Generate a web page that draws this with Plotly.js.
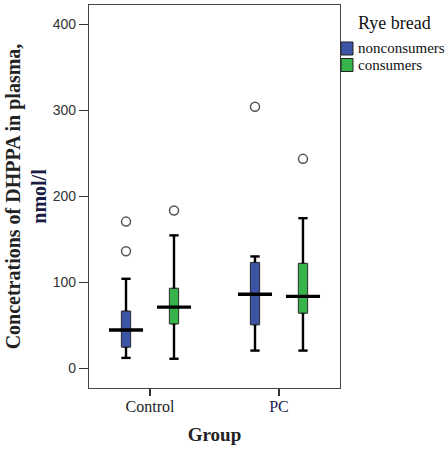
<!DOCTYPE html>
<html>
<head>
<meta charset="utf-8">
<script src="https://cdn.plot.ly/plotly-3.0.1.min.js"></script>
<style>html,body{margin:0;padding:0;background:#fff;}#chart{width:447px;height:449px;}</style>
</head>
<body>
<div id="chart"></div>
<script>
// ---- data ----
const categories = ['Control', 'PC'];
const seriesNames = ['nonconsumers', 'consumers'];
const nonLower = [12, 20.5];
const nonQ1 = [24.5, 50.5];
const nonMedian = [44.5, 86];
const nonQ3 = [66.5, 123];
const nonUpper = [104, 130];
const nonOutliers = [[170.5, 136], [304]];
const conLower = [11, 20.5];
const conQ1 = [51.5, 64];
const conMedian = [71, 83.5];
const conQ3 = [93, 122];
const conUpper = [154.5, 174.5];
const conOutliers = [[183.5], [243.5]];
const yTicks = [0, 100, 200, 300, 400];

// ---- styling ----
const colors = ['#3C54A5', '#36B34A'];
const offsets = [-0.186, 0.186];
const boxW = 0.072, capHalf = 0.036, medHalf = 0.132;
const serif = 'Liberation Serif, Times New Roman, serif';
const sans = 'Liberation Sans, Arial, sans-serif';
const tickColors = ['#222', '#1a1a50'];

const series = [
  {lower: nonLower, q1: nonQ1, med: nonMedian, q3: nonQ3, upper: nonUpper, out: nonOutliers},
  {lower: conLower, q1: conQ1, med: conMedian, q3: conQ3, upper: conUpper, out: conOutliers}
];

const boxes = [], lines = [];
series.forEach((s, si) => {
  const wx = [], wy = [], mx = [], my = [], ox = [], oy = [];
  categories.forEach((c, ci) => {
    const p = ci + offsets[si];
    boxes.push({
      type: 'box', name: seriesNames[si], showlegend: false,
      x: [p], q1: [s.q1[ci]], median: [s.med[ci]], q3: [s.q3[ci]],
      lowerfence: [s.q1[ci]], upperfence: [s.q3[ci]],
      width: boxW, fillcolor: colors[si],
      line: {color: '#2a2a2a', width: 1}, boxpoints: false, hoverinfo: 'skip'
    });
    // whiskers and caps
    wx.push(p, p, null, p, p, null, p - capHalf, p + capHalf, null, p - capHalf, p + capHalf, null);
    wy.push(s.lower[ci], s.q1[ci], null, s.q3[ci], s.upper[ci], null,
            s.lower[ci], s.lower[ci], null, s.upper[ci], s.upper[ci], null);
    mx.push(p - medHalf, p + medHalf, null);
    my.push(s.med[ci], s.med[ci], null);
    s.out[ci].forEach(v => { ox.push(p); oy.push(v); });
  });
  lines.push({type: 'scatter', mode: 'lines', x: wx, y: wy, showlegend: false,
    line: {color: '#000', width: 2.4}, hoverinfo: 'skip'});
  lines.push({type: 'scatter', mode: 'lines', x: mx, y: my, showlegend: false,
    line: {color: '#000', width: 3.4}, hoverinfo: 'skip'});
  lines.push({type: 'scatter', mode: 'markers', x: ox, y: oy, showlegend: false,
    marker: {symbol: 'circle-open', size: 9, color: '#555', line: {width: 1.5, color: '#555'}}, hoverinfo: 'skip'});
});

// legend (drawn manually) in paper coords: plot spans x 89..340, y 5..388
const px = v => (v - 89) / 251;
const py = v => (388 - v) / 383;
const shapes = [], annotations = [];
annotations.push({xref: 'paper', yref: 'paper', x: px(356), y: py(23), xanchor: 'left', yanchor: 'middle',
  text: 'Rye bread', showarrow: false, font: {family: serif, size: 18, color: '#111'}});
seriesNames.forEach((n, i) => {
  const top = 42 + i * 16.5;
  shapes.push({type: 'rect', xref: 'paper', yref: 'paper', x0: px(341), x1: px(353), y0: py(top), y1: py(top + 13),
    fillcolor: colors[i], line: {color: '#222', width: 1}});
  annotations.push({xref: 'paper', yref: 'paper', x: px(356), y: py(top + 6.5), xanchor: 'left', yanchor: 'middle',
    text: n, showarrow: false, font: {family: serif, size: 15, color: '#111'}});
});

const layout = {
  width: 447, height: 449,
  margin: {l: 89, r: 107, t: 5, b: 61},
  paper_bgcolor: '#fff', plot_bgcolor: '#fff',
  showlegend: false,
  xaxis: {
    range: [-0.473, 1.473], tickvals: [0, 1],
    ticktext: categories.map((c, i) => '<span style="color:' + tickColors[i] + '">' + c + '</span>'),
    ticks: 'outside', ticklen: 7, tickcolor: '#333', tickwidth: 1.2, ticklabelstandoff: -3,
    showline: true, mirror: true, linecolor: '#444', linewidth: 1.2,
    showgrid: false, zeroline: false,
    tickfont: {family: serif, size: 16, color: '#222'},
    title: {text: '<b>Group</b>', font: {family: serif, size: 19, color: '#222'}, standoff: 13}
  },
  yaxis: {
    range: [-23, 422.4], tickvals: yTicks,
    ticks: 'outside', ticklen: 9, tickcolor: '#333', tickwidth: 1.2,
    showline: true, mirror: true, linecolor: '#444', linewidth: 1.2,
    showgrid: false, zeroline: false,
    tickfont: {family: sans, size: 14, color: '#333'},
    title: {text: '<b>Concetrations of DHPPA in plasma,<br><span style="color:#1a1a44">nmol/l</span></b>',
      font: {family: serif, size: 20, color: '#222'}, standoff: 0}
  },
  shapes: shapes,
  annotations: annotations
};

Plotly.newPlot('chart', boxes.concat(lines), layout, {staticPlot: true, displayModeBar: false});
</script>
</body>
</html>
